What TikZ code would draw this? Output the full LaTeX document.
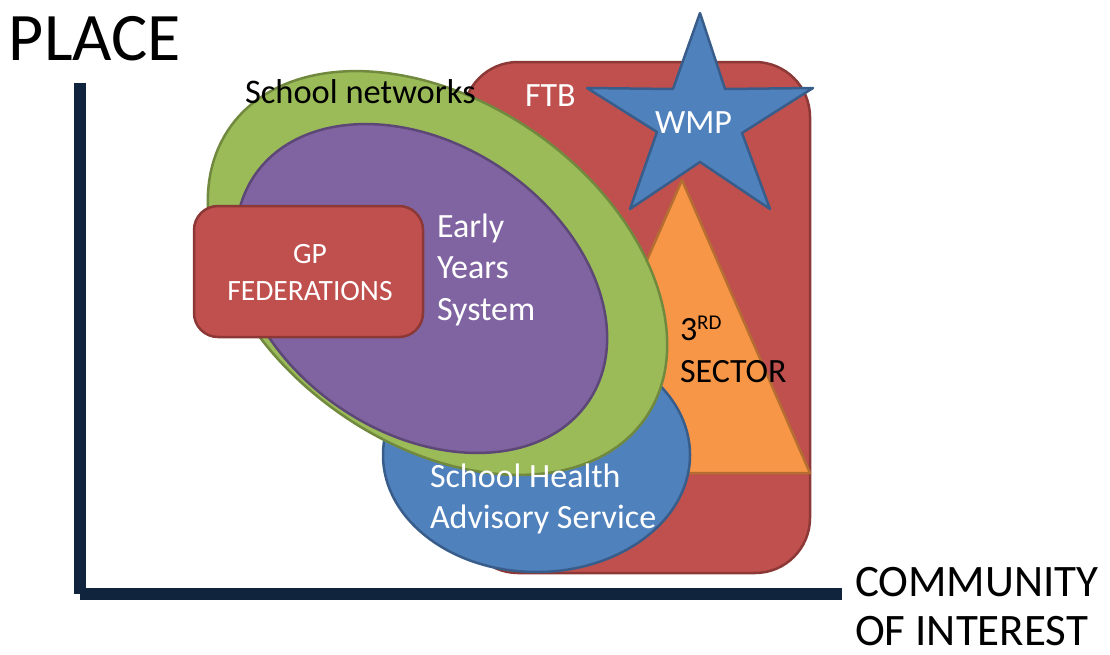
\documentclass[tikz,border=0pt]{standalone}
\usepackage{fontspec}
\setmainfont{Carlito}
\definecolor{ftbred}{HTML}{C0504D}
\definecolor{ftbredd}{HTML}{8C3836}
\definecolor{netgreen}{HTML}{9BBB59}
\definecolor{netgreend}{HTML}{71893F}
\definecolor{eypurple}{HTML}{8064A2}
\definecolor{eypurpled}{HTML}{5C4776}
\definecolor{shblue}{HTML}{4F81BD}
\definecolor{shblued}{HTML}{385D8A}
\definecolor{tsorange}{HTML}{F79646}
\definecolor{tsoranged}{HTML}{B66D31}
\definecolor{axisnavy}{HTML}{10243E}
\begin{document}
\begin{tikzpicture}[x=1pt,y=-1pt,
  shapeline/.style={line width=2.5pt, line join=round},
  lbl/.style={inner sep=0pt, outer sep=0pt},
  wlbl/.style={lbl, text=white, font={\fontsize{34}{41.5}\selectfont}},
  blbl/.style={lbl, text=black, font={\fontsize{34}{41.5}\selectfont}},
  axisline/.style={line width=11.7pt, draw=axisnavy, line cap=butt}]
\useasboundingbox (0,0) rectangle (1110,654);

% axes
\coordinate (ytop) at (80,83);
\coordinate (origin) at (80,594);
\coordinate (xend) at (842,594);
\draw[axisline] (ytop) -- (origin);
\draw[axisline] (origin) -- (xend);

% FTB rounded rectangle
\draw[shapeline, fill=ftbred, draw=ftbredd, rounded corners=55pt] (463,62) rectangle (810,573);

% 3rd sector triangle
\draw[shapeline, fill=tsorange, draw=tsoranged] (682,180) -- (810,473) -- (554,473) -- cycle;

% School health ellipse
\draw[shapeline, fill=shblue, draw=shblued] (536.5,455) ellipse [x radius=153.5, y radius=117];

% School networks ellipse
\draw[shapeline, fill=netgreen, draw=netgreend, rotate around={-35:(437.5,273)}]
  (437.5,273) ellipse [x radius=253.5, y radius=171];

% Early years ellipse
\draw[shapeline, fill=eypurple, draw=eypurpled, rotate around={-34:(421.5,288.5)}]
  (421.5,288.5) ellipse [x radius=201.6, y radius=144.4];

% GP box
\draw[shapeline, fill=ftbred, draw=ftbredd, rounded corners=24pt] (194,206) rectangle (423,337);

% WMP star
\draw[shapeline, fill=shblue, draw=shblued]
  (700,13) -- (725,89) -- (813,88) -- (742,133) -- (770,209) -- (700,162)
  -- (630,209) -- (657,132) -- (587,88) -- (673,89) -- cycle;

% labels (base anchor of a multi-line node = baseline of its last line)
\node[lbl, anchor=base west, font={\fontsize{68}{68}\selectfont}] (place) at (9,60) {PLACE};
\node[lbl, anchor=base west, align=left, text depth=0pt, font={\fontsize{45}{49}\selectfont}] (coi) at (855,645) {COMMUNITY\\OF INTEREST};
\node[blbl, anchor=base west, font={\fontsize{34.5}{41}\selectfont}] (netlbl) at (245,103) {School networks};
\node[wlbl, anchor=base west] (ftblbl) at (525,106) {FTB};
\node[wlbl, anchor=base] (wmplbl) at (693.5,133) {WMP};
\node[lbl, text=white, anchor=base, align=center, font={\fontsize{29.5}{37}\selectfont}] (gplbl) at (310,300) {GP\\FEDERATIONS};
\node[wlbl, anchor=base west, align=left] (eylbl) at (437,320) {Early\\Years\\System};
\node[wlbl, anchor=base west, align=left, font={\fontsize{34}{41}\selectfont}] (shlbl) at (430,528) {School Health\\Advisory Service};
\node[blbl, anchor=base west, align=left, font={\fontsize{34}{42}\selectfont}] (tslbl) at (680,382)
  {3\raisebox{11pt}{\fontsize{21}{21}\selectfont RD}\\SECTOR};
\end{tikzpicture}
\end{document}
